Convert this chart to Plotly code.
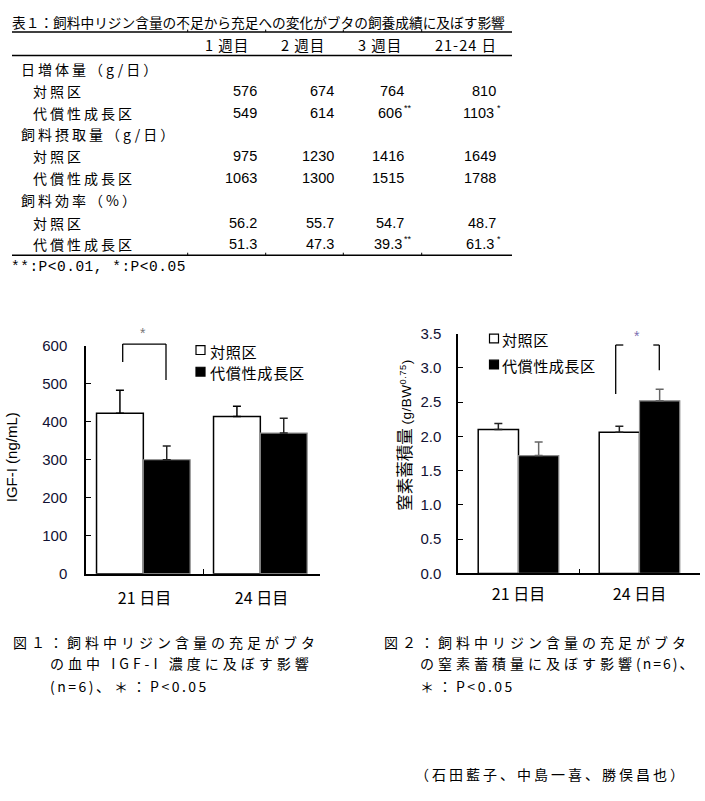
import plotly.graph_objects as go

W, H = 705, 801


def px(x):
    return x / W


def py(y):
    return 1 - y / H


# ---------------- Data ----------------
table_title = "表１：飼料中リジン含量の不足から充足への変化がブタの飼養成績に及ぼす影響"
table_columns = ["1 週目", "2 週目", "3 週目", "21-24 日"]
table_sections = ["日増体量（g/日）", "飼料摂取量（g/日）", "飼料効率（%）"]
table_groups = ["対照区", "代償性成長区"]
gain_control = [576, 674, 764, 810]
gain_comp = [549, 614, 606, 1103]
gain_comp_sig = ["", "", "**", "*"]
intake_control = [975, 1230, 1416, 1649]
intake_comp = [1063, 1300, 1515, 1788]
intake_comp_sig = ["", "", "", ""]
eff_control = [56.2, 55.7, 54.7, 48.7]
eff_comp = [51.3, 47.3, 39.3, 61.3]
eff_comp_sig = ["", "", "**", "*"]
table_note = "**:P&lt;0.01, *:P&lt;0.05"

days = ["21 日目", "24 日目"]
series_names = ["対照区", "代償性成長区"]
igf_control = [422, 414]
igf_control_sd = [61, 27]
igf_comp = [300, 370]
igf_comp_sd = [36, 39]
nitro_control = [2.10, 2.06]
nitro_control_sd = [0.09, 0.09]
nitro_comp = [1.72, 2.52]
nitro_comp_sd = [0.20, 0.17]

# caption lines as (text, letter-spacing) segments
caption1 = [[("図１：飼料中リジン含量の充足がブタ", 4)],
            [("の血中 IGF-I 濃度に及ぼす影響", 4)],
            [("(n=6)", 2.5), ("、＊：", 4), ("P&lt;0.05", 2.5)]]
caption2 = [[("図２：飼料中リジン含量の充足がブタ", 4)],
            [("の窒素蓄積量に及ぼす影響", 4), ("(n=6)", 2), ("、", 4)],
            [("＊：", 4), ("P&lt;0.05", 2.5)]]
authors = "（石田藍子、中島一喜、勝俣昌也）"

JP = "Noto Sans CJK JP"
SANS = "Liberation Sans, Arial"
MONO = "Liberation Mono"

fig = go.Figure()


def text(x, y, s, size, family=JP, anchor="left", color="black", spacing=None, angle=0):
    if spacing:
        s = "<span style='letter-spacing:%spx'>%s</span>" % (spacing, s)
    fig.add_annotation(x=px(x), y=py(y), xref="paper", yref="paper", text=s,
                       showarrow=False, xanchor=anchor, yanchor="middle",
                       font=dict(size=size, family=family, color=color),
                       textangle=angle, borderpad=0)


def segs(parts):
    return "".join("<span style='letter-spacing:%spx'>%s</span>" % (sp, t) for t, sp in parts)


def line(x0, y0, x1, y1, width=1.5, color="black"):
    fig.add_shape(type="line", xref="paper", yref="paper",
                  x0=px(x0), y0=py(y0), x1=px(x1), y1=py(y1),
                  line=dict(color=color, width=width))


def square(cx, cy, fill, size=9):
    h = size / 2
    fig.add_shape(type="rect", xref="paper", yref="paper",
                  x0=px(cx - h), x1=px(cx + h), y0=py(cy + h), y1=py(cy - h),
                  line=dict(color="black", width=1.2), fillcolor=fill)


# ---------------- Table ----------------
text(11, 13, table_title, 13.7)
line(12, 23.5, 512, 23.5)
line(12, 47.5, 512, 47.5)
line(12, 251.5, 512, 251.5)
for mx in [187.7, 265.7, 343.3, 421.7]:
    line(mx, 251.5, mx, 249, width=1)
    line(mx, 23.5, mx, 21, width=1)

header_cx = [227, 302.5, 380, 466]
for cx, c in zip(header_cx, table_columns):
    text(cx, 36, c, 14.5, anchor="center", spacing=1)

col_right = [258, 335, 404.5, 497]
row_y = [61, 83.3, 106, 128, 150, 172.7, 195, 218.3, 240]
blocks = [
    (gain_control, gain_comp, gain_comp_sig, "{:d}"),
    (intake_control, intake_comp, intake_comp_sig, "{:d}"),
    (eff_control, eff_comp, eff_comp_sig, "{:.1f}"),
]
for i, (sec, (ctrl, comp, sig, fmt)) in enumerate(zip(table_sections, blocks)):
    y0 = row_y[3 * i]
    text(20, y0, sec, 14, spacing=3)
    text(32, row_y[3 * i + 1], table_groups[0], 14, spacing=3)
    text(32, row_y[3 * i + 2], table_groups[1], 14, spacing=3)
    for j in range(4):
        text(col_right[j], row_y[3 * i + 1], fmt.format(ctrl[j]), 14.5, family=SANS, anchor="right")
        text(col_right[j] - (2 if sig[j] else 0), row_y[3 * i + 2], fmt.format(comp[j]), 14.5,
             family=SANS, anchor="right")
        if sig[j]:
            text(col_right[j] - 1.5, row_y[3 * i + 2] - 5, sig[j], 9, family=SANS)
text(10, 263.5, table_note, 14.5, family=MONO, spacing=0.5)

# ---------------- Chart 1 ----------------
fig.add_trace(go.Bar(
    x=days, y=igf_control, name=series_names[0], width=0.4, offset=-0.41,
    marker=dict(color="white", line=dict(color="black", width=1.5)),
    error_y=dict(type="data", symmetric=False, array=igf_control_sd,
                 arrayminus=[0] * len(igf_control_sd), color="black", thickness=1.5, width=4),
    xaxis="x", yaxis="y", showlegend=False))
fig.add_trace(go.Bar(
    x=days, y=igf_comp, name=series_names[1], width=0.4, offset=-0.01,
    marker=dict(color="black", line=dict(color="#8a8a8a", width=1.2)),
    error_y=dict(type="data", symmetric=False, array=igf_comp_sd,
                 arrayminus=[0] * len(igf_comp_sd), color="#222222", thickness=1.5, width=4),
    xaxis="x", yaxis="y", showlegend=False))

# ---------------- Chart 2 ----------------
fig.add_trace(go.Bar(
    x=days, y=nitro_control, name=series_names[0], width=0.333, offset=-0.333,
    marker=dict(color="white", line=dict(color="black", width=1.5)),
    error_y=dict(type="data", symmetric=False, array=nitro_control_sd,
                 arrayminus=[0] * len(nitro_control_sd), color="#222222", thickness=1.5, width=4),
    xaxis="x2", yaxis="y2", showlegend=False))
fig.add_trace(go.Bar(
    x=days, y=nitro_comp, name=series_names[1], width=0.333, offset=0,
    marker=dict(color="black", line=dict(color="#8a8a8a", width=1.2)),
    error_y=dict(type="data", symmetric=False, array=nitro_comp_sd,
                 arrayminus=[0] * len(nitro_comp_sd), color="#666666", thickness=1.5, width=4),
    xaxis="x2", yaxis="y2", showlegend=False))

axis_common = dict(showline=True, linecolor="black", linewidth=1.5, showgrid=False,
                   zeroline=False, ticks="inside", ticklen=5, tickwidth=1.2, tickcolor="black")

fig.update_layout(
    width=W, height=H, margin=dict(l=0, r=0, t=0, b=0),
    paper_bgcolor="white", plot_bgcolor="white", barmode="group",
    xaxis=dict(domain=[px(86), px(320)], anchor="y", type="category", range=[-0.5, 1.5],
               tickson="boundaries", ticklabelstandoff=9,
               tickfont=dict(family=JP, size=16, color="black"), **axis_common),
    yaxis=dict(domain=[py(577), py(344)], anchor="x", range=[0, 600], dtick=100,
               ticklabelstandoff=14,
               tickfont=dict(family=SANS, size=15, color="#111133"), **axis_common),
    xaxis2=dict(domain=[px(458), px(700)], anchor="y2", type="category", range=[-0.5, 1.5],
                tickson="boundaries", ticklabelstandoff=6,
                tickfont=dict(family=JP, size=16, color="black"), **axis_common),
    yaxis2=dict(domain=[py(576.7), py(331.7)], anchor="x2", range=[0, 3.5], dtick=0.5,
                tickformat=".1f", ticklabelstandoff=12,
                tickfont=dict(family=SANS, size=15, color="#111133"), **axis_common),
)

# axis titles
text(11, 458, "IGF-I (ng/mL)", 15, family=SANS, anchor="center", angle=-90)
text(404, 435,
     "窒素蓄積量 <span style='font-size:13.5px;font-family:Liberation Sans;letter-spacing:0.5px'>(g/BW<sup>0.75</sup>)</span>",
     16.5, anchor="center", angle=-90)

# legends
square(200.5, 348.5, "white")
text(209, 349, series_names[0], 15.2, spacing=0.6)
square(200.5, 370.5, "black")
text(209, 371, series_names[1], 15.2, spacing=0.6)
square(494, 336.7, "white")
text(501, 337, series_names[0], 15.2, spacing=0.4)
square(494, 363.3, "black")
text(501, 363.5, series_names[1], 15.2, spacing=0.4)

# significance brackets
line(122.7, 360.7, 122.7, 342.3, width=1.3)
line(122.7, 342.3, 166, 342.3, width=1.3)
line(166, 342.3, 166, 379, width=1.3)
text(143, 331, "*", 14, family=SANS, anchor="center", color="#777777")

line(615.7, 393.3, 615.7, 343.3, width=1.3)
line(615.7, 343.3, 623.3, 343.3, width=1.3)
line(653.3, 343.3, 659.3, 343.3, width=1.3)
line(659.3, 343.3, 659.3, 369, width=1.3)
text(637, 334, "*", 14, family=SANS, anchor="center", color="#7a6fb0")

# captions
cap_y = [646.7, 668.5, 691.5]
cap1_x = [12, 49, 49]
cap2_x = [383, 419, 419]
for k in range(3):
    text(cap1_x[k], cap_y[k], segs(caption1[k]), 14)
    text(cap2_x[k], cap_y[k], segs(caption2[k]), 14)
text(414, 781.5, authors, 14, spacing=3)

fig.write_html("out.html", config={"displayModeBar": False},
               post_script="document.body.style.margin='0';")
